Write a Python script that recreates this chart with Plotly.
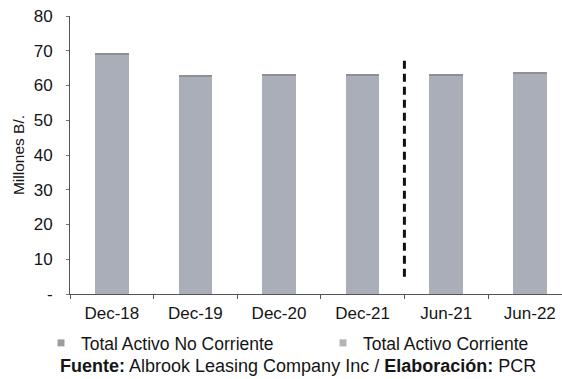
import plotly.graph_objects as go

# Periods and balances (millions B/.)
periods = ["Dec-18", "Dec-19", "Dec-20", "Dec-21", "Jun-21", "Jun-22"]
activo_no_corriente = [68.9, 62.6, 62.8, 62.9, 62.9, 63.4]
activo_corriente = [0.4, 0.4, 0.3, 0.4, 0.4, 0.5]

y_tick_vals = [0, 10, 20, 30, 40, 50, 60, 70, 80]
y_tick_text = ["-", "10", "20", "30", "40", "50", "60", "70", "80"]

name_nc = "Total Activo No Corriente"
name_c = "Total Activo Corriente"
color_nc = "#AAAEB8"
color_c = "#8E9096"
legend_nc = "#9C9C9C"
legend_c = "#B4B4B4"

FONT = "Liberation Sans, Arial, sans-serif"
TXT = "#151515"

# plot area geometry (px) used to place paper-referenced items
PL, PW, PB, PH = 70, 492, 294, 278


def px_x(x):
    return (x - PL) / PW


def px_y(y):
    return (PB - y) / PH


fig = go.Figure()
fig.add_trace(go.Bar(x=periods, y=activo_no_corriente, name=name_nc,
                     marker=dict(color=color_nc, line=dict(width=0)),
                     showlegend=False))
fig.add_trace(go.Bar(x=periods, y=activo_corriente, name=name_c,
                     marker=dict(color=color_c, line=dict(width=0)),
                     showlegend=False))

# small square swatches, one legend box per series
fig.add_trace(go.Scatter(x=[None], y=[None], mode="markers", name=name_nc,
                         legend="legend",
                         marker=dict(symbol="square", size=7, color=legend_nc)))
fig.add_trace(go.Scatter(x=[None], y=[None], mode="markers", name=name_c,
                         legend="legend2",
                         marker=dict(symbol="square", size=7, color=legend_c)))

# dashed separator between annual and semester figures
fig.add_shape(type="line", xref="x", yref="y", x0=3.5, x1=3.5, y0=5, y1=68,
              line=dict(color="#111111", width=3, dash="8px,5px"))

fig.add_annotation(
    text="<b>Fuente:</b> Albrook Leasing Company Inc / <b>Elaboración:</b> PCR",
    xref="paper", yref="paper", x=px_x(298), y=px_y(366),
    xanchor="center", yanchor="middle", showarrow=False,
    font=dict(family=FONT, size=18, color=TXT))

leg_common = dict(orientation="h", xanchor="left", yanchor="middle",
                  font=dict(family=FONT, size=17.5, color=TXT),
                  bgcolor="rgba(0,0,0,0)", itemclick=False,
                  itemdoubleclick=False)

fig.update_layout(
    width=562, height=379,
    margin=dict(l=PL, r=0, t=16, b=85),
    paper_bgcolor="white", plot_bgcolor="white",
    barmode="stack", bargap=0.6,
    font=dict(family=FONT, size=17, color=TXT),
    showlegend=True,
    legend=dict(x=px_x(41), y=px_y(343), **leg_common),
    legend2=dict(x=px_x(323), y=px_y(343), **leg_common),
    xaxis=dict(range=[-0.5, 5.385], showgrid=False, zeroline=False,
               showline=True, linecolor="#555555", linewidth=1,
               ticks="outside", tickson="boundaries", ticklen=4,
               tickcolor="#555555", tickfont=dict(size=17, color=TXT),
               ticklabelstandoff=4, fixedrange=True),
    yaxis=dict(range=[0, 80], tickvals=y_tick_vals, ticktext=y_tick_text,
               showgrid=False, zeroline=False, showline=True,
               linecolor="#555555", linewidth=1, ticks="outside", ticklen=3,
               tickcolor="#777777", tickfont=dict(size=17, color=TXT),
               ticklabelstandoff=10,
               title=dict(text="Millones B/.", font=dict(size=15.5, color=TXT),
                          standoff=5),
               fixedrange=True),
)

fig.write_html("out.html")
